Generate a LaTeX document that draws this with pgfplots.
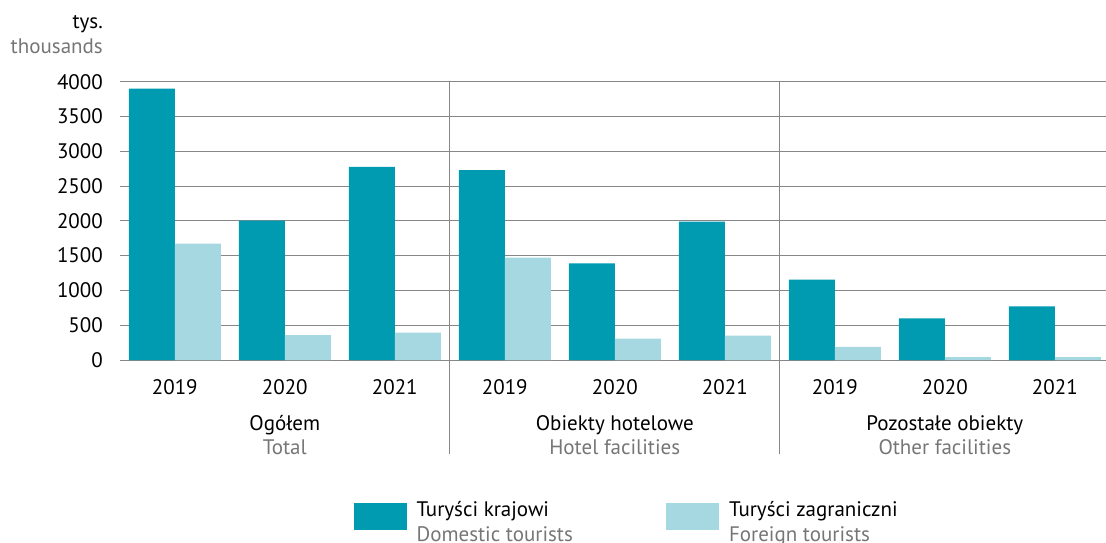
\documentclass[border=0pt]{standalone}
\usepackage{pgfplots}
\pgfplotsset{compat=1.18}
\usepackage{fontspec}
\setmainfont{PT Sans}
\definecolor{dom}{RGB}{0,155,176}
\definecolor{forn}{RGB}{166,216,225}
\definecolor{engray}{RGB}{118,118,118}
\definecolor{gridgray}{RGB}{135,135,135}
\newcommand{\bigf}{\fontsize{21}{25}\selectfont}
\newcommand{\legtext}[2]{\vbox{\baselineskip=25pt\hbox to 249.5pt{\strut #1\hfil}\hbox to 249.5pt{\strut\color{engray}#2\hfil}}}
\begin{document}
\begin{tikzpicture}[font=\bigf]
\begin{axis}[
  scale only axis, width=986.7pt, height=278.3pt,
  xmin=-0.5, xmax=8.47, ymin=0, ymax=4000,
  enlargelimits=false,
  ybar=0pt, bar width=46pt,
  axis line style={draw=none}, tick style={draw=none},
  ymajorgrids, grid style={gridgray, line width=1pt},
  ytick={0,500,...,4000},
  xtick={0,...,8},
  xticklabels={2019,2020,2021,2019,2020,2021,2019,2020,2021},
  tick label style={font=\bigf},
  yticklabel style={anchor=east, inner sep=0pt, xshift=-16.8pt},
  xticklabel style={anchor=base, inner sep=0pt, yshift=-30pt},
  /pgf/number format/1000 sep={},
  /pgf/number format/assume math mode=true,
  clip=false,
  legend cell align=left,
  legend columns=2,
  legend image code/.code={\path[#1] (0pt,-8.5pt) rectangle (53pt,18.2pt); \path (63pt,0pt);},
  legend style={draw=none, fill=none, inner sep=0pt, outer sep=0pt,
    /tikz/column sep=0pt, nodes={inner sep=0pt, font=\bigf},
    at={(axis description cs:0.2369,-0.5)}, anchor=north west},
]
\addplot[fill=dom, draw=none] coordinates {(0,3900) (1,2005) (2,2775) (3,2728) (4,1390) (5,1990) (6,1155) (7,600) (8,772)};
\addlegendentry{\legtext{Turyści krajowi}{Domestic tourists}}
\addplot[fill=forn, draw=none] coordinates {(0,1672) (1,357) (2,395) (3,1470) (4,307) (5,352) (6,190) (7,42) (8,42)};
\addlegendentry{\legtext{Turyści zagraniczni}{Foreign tourists}}

\draw[gridgray, line width=1pt] (axis cs:2.5,4000) -- ([yshift=-94pt]axis cs:2.5,0);
\draw[gridgray, line width=1pt] (axis cs:5.5,4000) -- ([yshift=-94pt]axis cs:5.5,0);

\node[anchor=base, inner sep=0pt] at ([yshift=-70pt]axis cs:1,0) {Ogółem};
\node[anchor=base, inner sep=0pt, text=engray] at ([yshift=-94.3pt]axis cs:1,0) {Total};
\node[anchor=base, inner sep=0pt] at ([yshift=-70pt]axis cs:4,0) {Obiekty hotelowe};
\node[anchor=base, inner sep=0pt, text=engray] at ([yshift=-94.3pt]axis cs:4,0) {Hotel facilities};
\node[anchor=base, inner sep=0pt] at ([yshift=-70pt]axis cs:7,0) {Pozostałe obiekty};
\node[anchor=base, inner sep=0pt, text=engray] at ([yshift=-94.3pt]axis cs:7,0) {Other facilities};

\node[anchor=base east, inner sep=0pt] at ([xshift=-16.8pt,yshift=332pt]axis cs:-0.5,0) {tys.};
\node[anchor=base east, inner sep=0pt, text=engray] at ([xshift=-16.8pt,yshift=307pt]axis cs:-0.5,0) {thousands};
\end{axis}
\pgfresetboundingbox
\path (-119.8pt,-182pt) rectangle (986.2pt,360pt);
\end{tikzpicture}
\end{document}
